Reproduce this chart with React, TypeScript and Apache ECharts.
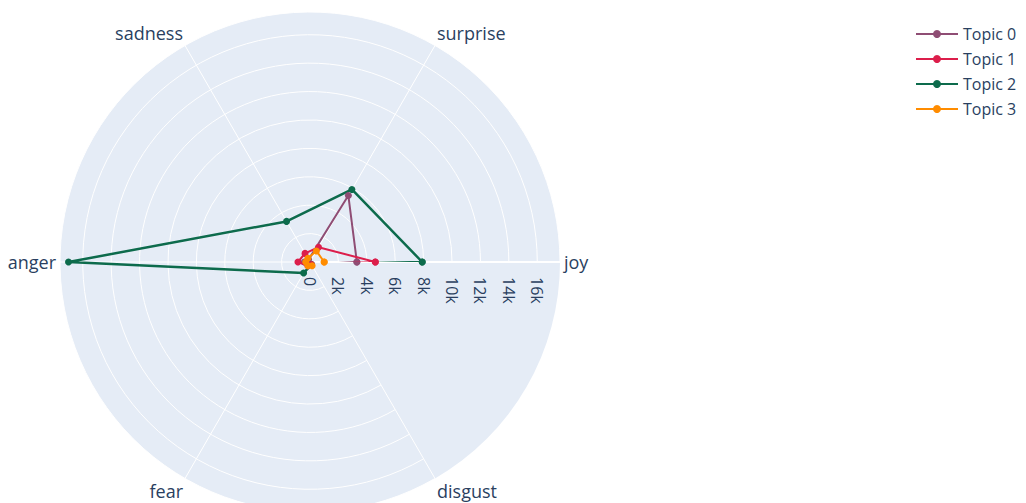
import React, { useEffect, useRef } from "react";
import * as echarts from "echarts";

const emotions = ["joy", "surprise", "sadness", "anger", "fear", "disgust"];
const topicNames = ["Topic 0", "Topic 1", "Topic 2", "Topic 3"];
const topic0 = [3300, 5400, 200, 400, 200, 200];
const topic1 = [4600, 1200, 700, 850, 300, 200];
const topic2 = [7900, 5900, 3300, 17000, 900, 200];
const topic3 = [1000, 900, 300, 300, 300, 300];
const topicValues = [topic0, topic1, topic2, topic3];
const topicColors = ["#8f4d74", "#dc1e4b", "#0d6b4c", "#ff8c00"];
const radialTicks = [0, 2000, 4000, 6000, 8000, 10000, 12000, 14000, 16000];

const textColor = "#2a3f5f";
const fontFamily = '"Open Sans", Verdana, Arial, sans-serif';
const CX = 310;
const CY = 262;
const R = 250;
const LABEL_BOX = 34;

export default function App() {
  const ref = useRef<HTMLDivElement>(null);
  useEffect(() => {
    if (!ref.current) return;
    const chart = echarts.init(ref.current, undefined, { renderer: "svg" });
    const series = topicNames.map((name, i) => {
      const vals = topicValues[i];
      const data = vals.map((v, j) => [v, j]);
      data.push([vals[0], 0]);
      return {
        name,
        type: "line",
        coordinateSystem: "polar",
        data,
        symbol: "circle",
        symbolSize: 7,
        lineStyle: { color: topicColors[i], width: i === 2 ? 2.5 : 2 },
        itemStyle: { color: topicColors[i] },
        z: 3 + (i === 2 ? 0 : i),
      };
    });
    chart.setOption({
      animation: false,
      backgroundColor: "#ffffff",
      textStyle: { fontFamily },
      graphic: [
        {
          type: "circle",
          z: -10,
          silent: true,
          shape: { cx: CX, cy: CY, r: R },
          style: { fill: "#E5ECF6" },
        },
      ],
      legend: {
        orient: "vertical",
        left: 910,
        top: 21,
        itemWidth: 42,
        itemHeight: 10,
        itemGap: 9,
        data: topicNames,
        textStyle: { color: textColor, fontSize: 16, fontFamily, lineHeight: 16 },
      },
      polar: { center: [CX, CY], radius: R },
      angleAxis: {
        type: "category",
        data: emotions,
        startAngle: 0,
        clockwise: false,
        boundaryGap: false,
        axisLine: { show: false },
        axisTick: { show: false },
        axisLabel: { color: textColor, fontSize: 18, fontFamily, margin: 4 },
        splitLine: { show: true, lineStyle: { color: "#ffffff", width: 1 } },
      },
      radiusAxis: {
        type: "value",
        min: 0,
        max: 17600,
        interval: 2000,
        axisLine: { show: true, lineStyle: { color: "#ffffff", width: 2 } },
        axisTick: { show: false },
        axisLabel: {
          rotate: -90,
          margin: -(LABEL_BOX + 15),
          formatter: (v: number) =>
            radialTicks.includes(v)
              ? "{t|" + (v === 0 ? "0" : v / 1000 + "k") + "}"
              : "",
          rich: {
            t: {
              width: LABEL_BOX,
              align: "left",
              color: textColor,
              fontSize: 16,
              fontFamily,
            },
          },
        },
        splitLine: { show: true, lineStyle: { color: "#ffffff", width: 1 } },
        z: 2,
      },
      series,
    });
    return () => chart.dispose();
  }, []);
  return (
    <div
      ref={ref}
      style={{ position: "fixed", left: 0, top: 0, width: 1026, height: 503 }}
    />
  );
}
